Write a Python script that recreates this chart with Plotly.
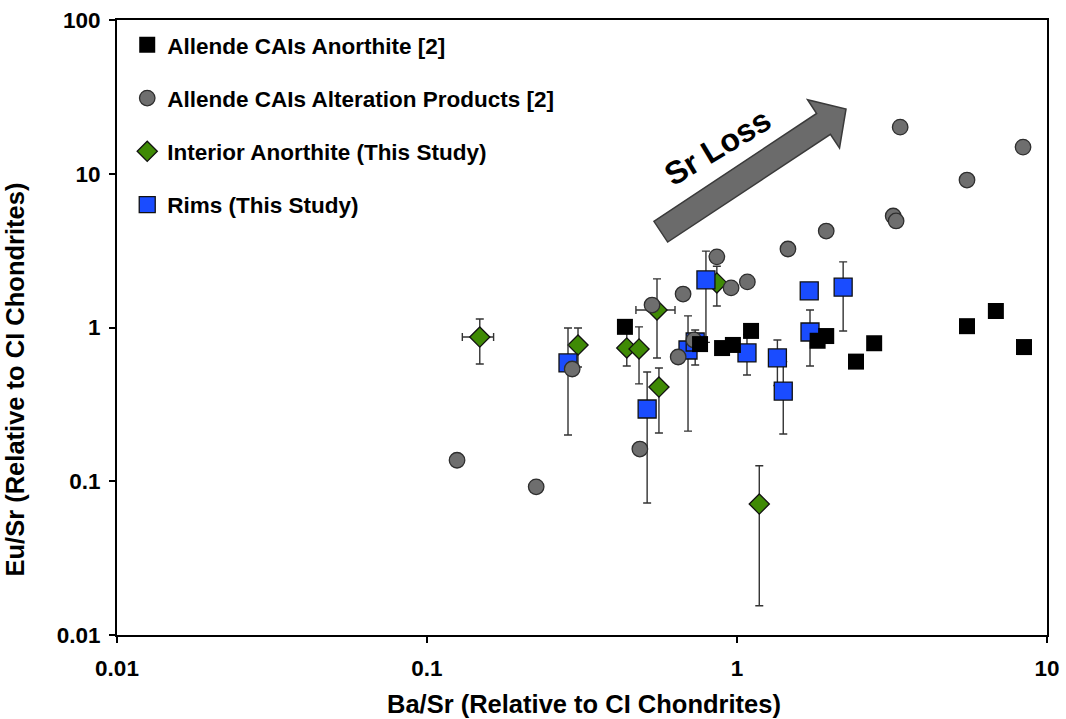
import plotly.graph_objects as go

# ---------------- data ----------------
# Allende CAIs Anorthite [2]
anor_x = [0.435, 0.760, 0.895, 0.970, 1.11, 1.82, 1.94, 2.42, 2.77, 5.52, 6.84, 8.43]
anor_y = [1.01, 0.78, 0.735, 0.77, 0.95, 0.82, 0.88, 0.60, 0.79, 1.02, 1.28, 0.746]

# Allende CAIs Alteration Products [2]
alt_x = [0.125, 0.225, 0.294, 0.486, 0.532, 0.646, 0.670, 0.726, 0.861,
         0.957, 1.08, 1.46, 1.94, 3.19, 3.26, 3.36, 5.52, 8.37]
alt_y = [0.137, 0.092, 0.537, 0.162, 1.40, 0.643, 1.65, 0.83, 2.88,
         1.81, 1.98, 3.24, 4.24, 5.31, 4.93, 20.1, 9.1, 14.9]

# Interior Anorthite (This Study)
int_x = [0.148, 0.307, 0.441, 0.483, 0.552, 0.560, 0.861, 1.18]
int_y = [0.867, 0.769, 0.736, 0.725, 1.30, 0.410, 1.95, 0.0711]
int_y_hi = [1.135, 0.993, 0.95, 1.01, 2.07, 0.545, 2.5, 0.126]
int_y_lo = [0.579, 0.553, 0.562, 0.430, 0.634, 0.206, 1.38, 0.0155]
int_x_hi = [0.164, None, None, None, 0.631, None, None, None]
int_x_lo = [0.130, None, None, None, 0.472, None, None, None]

# Rims (This Study)
rim_x = [0.285, 0.513, 0.695, 0.733, 0.794, 1.077, 1.35, 1.41, 1.71, 1.72, 2.20]
rim_y = [0.588, 0.295, 0.714, 0.805, 2.04, 0.683, 0.634, 0.386, 1.73, 0.935, 1.83]
rim_y_hi = [0.993, 0.514, 1.19, 0.964, 3.14, 0.90, 0.83, 0.60, None, 1.30, 2.67]
rim_y_lo = [0.200, 0.0722, 0.212, 0.570, 0.80, 0.491, 0.42, 0.203, None, 0.562, 0.949]

x_ticks = [0.01, 0.1, 1, 10]
x_ticktext = ["0.01", "0.1", "1", "10"]
y_ticks = [0.01, 0.1, 1, 10, 100]
y_ticktext = ["0.01", "0.1", "1", "10", "100"]


def plus(vals, hi):
    return [(h - v) if h is not None else 0 for v, h in zip(vals, hi)]


def minus(vals, lo):
    return [(v - l) if l is not None else 0 for v, l in zip(vals, lo)]


FONT = "Liberation Sans, Arial, Helvetica, sans-serif"
ERR = dict(color="#333333", thickness=1.4, width=4)

fig = go.Figure()

fig.add_trace(go.Scatter(
    x=int_x, y=int_y, mode="markers", name="Interior Anorthite (This Study)",
    legendgroup="c", legendrank=3,
    marker=dict(symbol="diamond", size=15.5, color="#3f8a05",
                line=dict(color="#111111", width=1.3)),
    error_y=dict(type="data", symmetric=False, array=plus(int_y, int_y_hi),
                 arrayminus=minus(int_y, int_y_lo), **ERR),
    error_x=dict(type="data", symmetric=False, array=plus(int_x, int_x_hi),
                 arrayminus=minus(int_x, int_x_lo), **ERR),
))

fig.add_trace(go.Scatter(
    x=rim_x, y=rim_y, mode="markers", name="Rims (This Study)",
    legendgroup="d", legendrank=4,
    marker=dict(symbol="square", size=18, color="#1a4cff",
                line=dict(color="#111111", width=1.3)),
    error_y=dict(type="data", symmetric=False, array=plus(rim_y, rim_y_hi),
                 arrayminus=minus(rim_y, rim_y_lo), **ERR),
))

fig.add_trace(go.Scatter(
    x=alt_x, y=alt_y, mode="markers", name="Allende CAIs Alteration Products [2]",
    legendgroup="b", legendrank=2,
    marker=dict(symbol="circle", size=15.5, color="#6e6e6e",
                line=dict(color="#2e2e2e", width=1.3)),
))

fig.add_trace(go.Scatter(
    x=anor_x, y=anor_y, mode="markers", name="Allende CAIs Anorthite [2]",
    legendgroup="a", legendrank=1,
    marker=dict(symbol="square", size=16, color="#000000",
                line=dict(color="#000000", width=0)),
))

# "Sr Loss" arrow (paper coordinates)
arrow_pts = [(0.5773, 0.6727), (0.7523, 0.8480), (0.7425, 0.8704), (0.7839, 0.8553),
             (0.7769, 0.7917), (0.7671, 0.8141), (0.5921, 0.6389)]
path = "M " + " L ".join(f"{px},{py}" for px, py in arrow_pts) + " Z"
fig.add_shape(type="path", xref="paper", yref="paper", path=path,
              fillcolor="#6b6b6b", line=dict(color="#3a3a3a", width=1.5), layer="above")

fig.add_annotation(xref="paper", yref="paper", x=0.646, y=0.793, text="Sr Loss",
                   showarrow=False, textangle=-31, xanchor="center", yanchor="middle",
                   font=dict(family=FONT, size=32, color="#000000", weight="bold"))

# axis titles
fig.add_annotation(xref="paper", yref="paper", x=0.502, y=-0.112,
                   text="Ba/Sr (Relative to CI Chondrites)", showarrow=False,
                   xanchor="center", yanchor="middle",
                   font=dict(family=FONT, size=25.5, color="#000000", weight="bold"))
fig.add_annotation(xref="paper", yref="paper", x=-0.11, y=0.415,
                   text="Eu/Sr (Relative to CI Chondrites)", showarrow=False,
                   textangle=-90, xanchor="center", yanchor="middle",
                   font=dict(family=FONT, size=25.5, color="#000000", weight="bold"))

axis_common = dict(type="log", showgrid=False, zeroline=False, showline=True,
                   linecolor="#000000", linewidth=1.8, mirror=True,
                   ticks="outside", ticklen=6, tickwidth=1.5, tickcolor="#000000",
                   tickfont=dict(family=FONT, size=22.5, color="#000000", weight="bold"))

fig.update_xaxes(range=[-2, 1], tickvals=x_ticks, ticktext=x_ticktext,
                 ticklabelstandoff=6, **axis_common)
fig.update_yaxes(range=[-2, 2], tickvals=y_ticks, ticktext=y_ticktext,
                 ticklabelstandoff=4, **axis_common)

fig.update_layout(
    width=1066, height=719,
    margin=dict(l=117, r=19, t=20, b=84, autoexpand=False),
    paper_bgcolor="white", plot_bgcolor="white",
    showlegend=True,
    legend=dict(x=0.011, y=0.994, xanchor="left", yanchor="top",
                traceorder="grouped", tracegroupgap=21,
                bgcolor="rgba(0,0,0,0)",
                font=dict(family=FONT, size=22.5, color="#000000", weight="bold")),
)

fig.write_html("out.html")
